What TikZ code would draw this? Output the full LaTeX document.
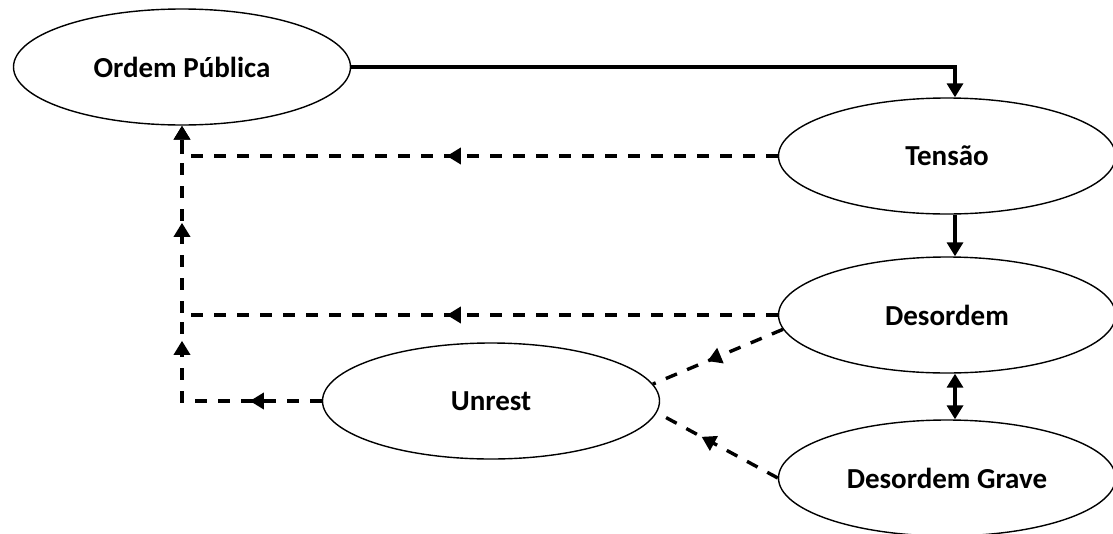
\documentclass[tikz,border=0pt]{standalone}
\usepackage{fontspec}
\setmainfont{Carlito}
\usetikzlibrary{shapes.geometric,arrows.meta,decorations.markings}

\begin{document}
\begin{tikzpicture}[x=1pt, y=-1pt,
    estado/.style={ellipse, draw, line width=1.4pt, minimum width=337pt, minimum height=116pt,
      inner sep=0pt, font=\fontsize{29}{35}\selectfont\bfseries},
    cheia/.style={line width=3.4pt},
    tracejada/.style={line width=3.4pt, dash pattern=on 12pt off 11pt},
    seta meio/.style={postaction={decorate, decoration={markings, mark=at position #1 with {\arrow{>}}}}},
    >={Triangle[length=14pt,width=16pt]}
  ]
  \useasboundingbox (0,0) rectangle (1113,533);

  % estados
  \node[estado] (ordem) at (182,67) {Ordem Pública};
  \node[estado] (tensao) at (947,156) {Tensão};
  \node[estado] (desordem) at (947,315) {Desordem};
  \node[estado] (unrest) at (491,401) {Unrest};
  \node[estado] (grave) at (947,478) {Desordem Grave};

  % escalada
  \draw[cheia, ->] (ordem.east) -| ([xshift=8pt]tensao.north);
  \draw[cheia, ->] ([xshift=8pt]tensao.south) -- ([xshift=8pt]desordem.north);
  \draw[cheia, <->] ([xshift=8pt]desordem.south) -- ([xshift=8pt]grave.north);

  % retorno
  \draw[tracejada, ->, seta meio=331pt] (tensao.west) -| (ordem.south);
  \draw[tracejada, ->, seta meio=331pt, seta meio=688pt] (desordem.west) -| (ordem.south);
  \draw[tracejada, seta meio=72pt, seta meio=200pt] (unrest.west) -| (ordem.south |- desordem.west);
  \draw[tracejada, seta meio=0.58] (desordem.185) -- (unrest.6);
  \draw[tracejada, seta meio=0.63] (grave.west) -- (unrest.-4);
\end{tikzpicture}
\end{document}
